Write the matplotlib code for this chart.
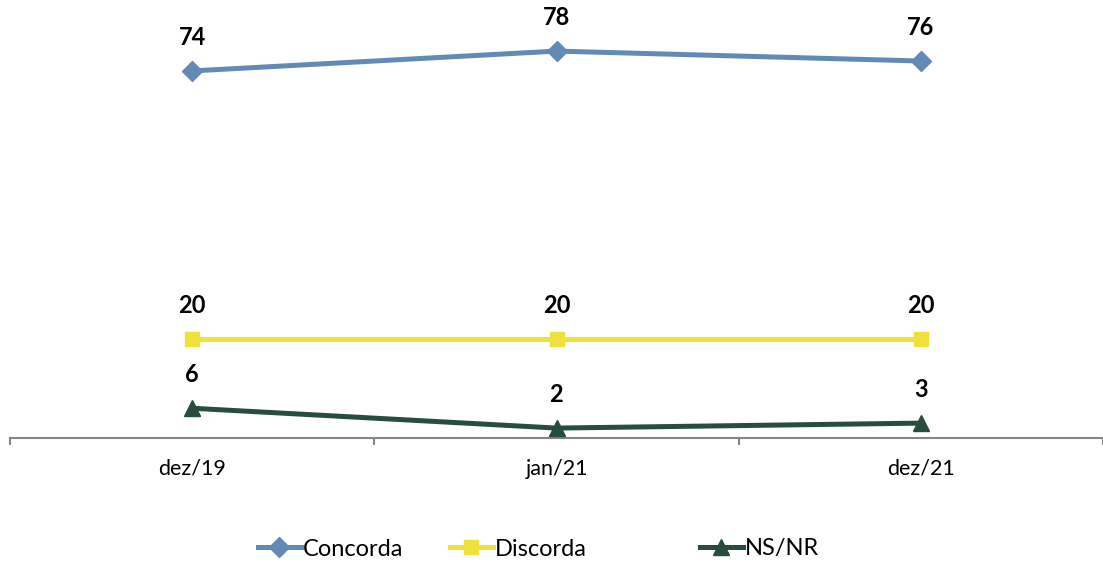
import matplotlib.pyplot as plt
from matplotlib.lines import Line2D

plt.rcParams['font.family'] = ['Lato', 'DejaVu Sans']

periods = ['dez/19', 'jan/21', 'dez/21']
concorda = [74, 78, 76]
discorda = [20, 20, 20]
nsnr = [6, 2, 3]

series = [
    ('Concorda', concorda, '#6389B5', 'D', 10),
    ('Discorda', discorda, '#F0E03C', 's', 10),
    ('NS/NR', nsnr, '#274D3D', '^', 12),
]

fig = plt.figure(figsize=(11.03, 5.64), dpi=100)
ax = fig.add_axes([10 / 1103, (564 - 438) / 564, 1093 / 1103, 438 / 564])

x = list(range(len(periods)))
for name, vals, color, marker, ms in series:
    ax.plot(x, vals, color=color, lw=3.6, marker=marker, markersize=ms,
            solid_capstyle='round', zorder=3)
    for xi, v in zip(x, vals):
        ax.annotate(str(v), (xi, v), xytext=(0, 24), textcoords='offset points',
                    ha='center', va='center', fontsize=17, fontweight='bold')

ax.set_xlim(-0.5, 2.5)
ax.set_ylim(0, 88.3)
for s in ['top', 'right', 'left']:
    ax.spines[s].set_visible(False)
ax.spines['bottom'].set_color('#868686')
ax.spines['bottom'].set_linewidth(1.5)
ax.set_yticks([])
ax.set_xticks([-0.5, 0.5, 1.5, 2.5])
ax.set_xticklabels([])
ax.set_xticks(x, minor=True)
ax.set_xticklabels(periods, minor=True, fontsize=15.5)
ax.tick_params(axis='x', which='major', length=5, width=1.5, color='#868686')
ax.tick_params(axis='x', which='minor', length=0, pad=15)

# one legend per entry, placed where the reference has them
legend_x = [258, 450, 700]
for (name, _, c, m, ms), lx in zip(series, legend_x):
    h = Line2D([], [], color=c, lw=3.6, marker=m, markersize=ms)
    fig.legend([h], [name], loc='center left',
               bbox_to_anchor=(lx / 1103, 1 - 549 / 564),
               frameon=False, fontsize=17, handlelength=1.8,
               handletextpad=0.12, borderpad=0, borderaxespad=0)

fig.savefig('out.png', dpi=100)
